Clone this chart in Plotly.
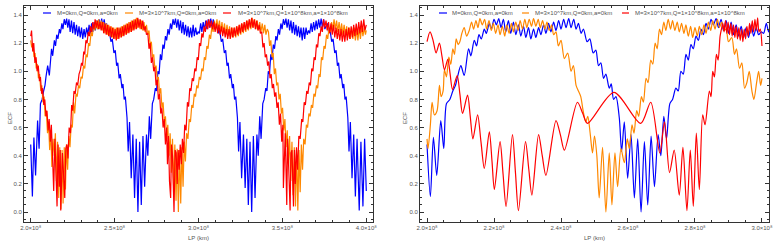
import numpy as np
import plotly.graph_objects as go

# LP in units of 1e8 km, ECF values
# M=0 (same curve in both panels)
blue_pts = [
(2.000,0.48),(2.010,0.11),(2.019,0.53),(2.029,0.26),(2.041,0.65),(2.050,0.45),(2.058,0.77),(2.068,0.80),
(2.077,0.86),(2.085,0.90),(2.091,0.96),(2.101,1.04),(2.111,0.97),(2.124,1.16),(2.131,1.11),(2.141,1.22),
(2.148,1.18),(2.155,1.26),(2.162,1.23),(2.171,1.30),(2.177,1.27),(2.186,1.34),(2.192,1.30),(2.200,1.37),
(2.207,1.33),(2.214,1.375),(2.221,1.31),(2.228,1.37),(2.235,1.28),(2.243,1.36),(2.250,1.27),(2.258,1.35),
(2.265,1.26),(2.273,1.33),(2.280,1.25),(2.288,1.32),(2.295,1.24),(2.303,1.31),(2.310,1.23),(2.318,1.30),
(2.325,1.24),(2.333,1.31),(2.340,1.26),(2.348,1.33),(2.355,1.27),(2.363,1.34),(2.370,1.28),(2.378,1.35),
(2.385,1.29),(2.393,1.36),(2.400,1.30),(2.408,1.37),(2.415,1.31),(2.423,1.375),(2.430,1.31),(2.438,1.37),
(2.445,1.30),(2.452,1.34),(2.460,1.27),(2.467,1.30),(2.478,1.21),(2.486,1.23),(2.496,1.13),(2.504,1.15),
(2.512,1.04),(2.519,1.06),(2.527,0.95),(2.534,0.98),(2.544,0.88),(2.550,0.91),(2.557,0.80),(2.564,0.82),
(2.574,0.67),(2.581,0.43),(2.589,0.64),(2.599,0.24),(2.609,0.55),(2.619,0.10),(2.629,0.52),(2.639,0.00),
(2.649,0.50),(2.659,0.05),(2.669,0.54),(2.679,0.18),(2.690,0.55),(2.698,0.40),(2.707,0.68),(2.715,0.52),
(2.725,0.77),(2.733,0.80),(2.743,0.88),(2.750,0.86),(2.758,1.00),(2.765,0.98),(2.773,1.12),(2.780,1.08),
(2.788,1.19),(2.795,1.16),(2.803,1.25),(2.810,1.22),(2.818,1.30),(2.825,1.26),(2.833,1.34),(2.840,1.30),
(2.848,1.37),(2.855,1.33),(2.863,1.375),(2.870,1.31),(2.878,1.37),(2.885,1.29),(2.893,1.36),(2.900,1.27),
(2.908,1.35),(2.915,1.26),(2.923,1.33),(2.930,1.25),(2.938,1.32),(2.945,1.24),(2.953,1.31),(2.960,1.24),
(2.968,1.33),(2.975,1.25),(2.983,1.31),(2.990,1.26),(2.998,1.28),(3.005,1.27),(3.013,1.34),(3.020,1.28),
(3.028,1.35),(3.035,1.29),(3.043,1.36),(3.050,1.30),(3.058,1.37),(3.065,1.31),(3.073,1.375),(3.080,1.31),
(3.088,1.37),(3.095,1.30),(3.110,1.34),(3.118,1.27),(3.125,1.30),(3.136,1.21),(3.144,1.23),(3.154,1.13),
(3.162,1.15),(3.170,1.04),(3.177,1.06),(3.185,0.95),(3.192,0.98),(3.202,0.88),(3.208,0.91),(3.215,0.80),
(3.222,0.82),(3.232,0.67),(3.239,0.43),(3.247,0.64),(3.257,0.24),(3.268,0.55),(3.278,0.17),(3.288,0.52),
(3.297,0.05),(3.307,0.50),(3.317,0.00),(3.327,0.54),(3.337,0.10),(3.348,0.55),(3.356,0.40),(3.365,0.68),
(3.373,0.52),(3.383,0.77),(3.391,0.80),(3.401,0.88),(3.408,0.86),(3.416,1.00),(3.423,0.98),(3.431,1.12),
(3.438,1.08),(3.446,1.19),(3.453,1.16),(3.461,1.25),(3.468,1.22),(3.476,1.30),(3.483,1.26),(3.491,1.34),
(3.498,1.30),(3.506,1.37),(3.513,1.33),(3.521,1.375),(3.528,1.31),(3.536,1.37),(3.543,1.29),(3.551,1.36),
(3.558,1.27),(3.566,1.35),(3.573,1.26),(3.581,1.33),(3.588,1.25),(3.596,1.32),(3.603,1.24),(3.611,1.31),
(3.618,1.22),(3.626,1.31),(3.633,1.23),(3.641,1.31),(3.648,1.26),(3.656,1.29),(3.663,1.27),(3.671,1.34),
(3.678,1.28),(3.686,1.35),(3.693,1.29),(3.701,1.36),(3.708,1.30),(3.716,1.37),(3.723,1.31),(3.731,1.375),
(3.738,1.31),(3.746,1.37),(3.753,1.30),(3.768,1.34),(3.776,1.27),(3.783,1.30),(3.794,1.21),(3.802,1.23),
(3.812,1.13),(3.820,1.15),(3.828,1.04),(3.835,1.06),(3.843,0.95),(3.850,0.98),(3.860,0.88),(3.866,0.91),
(3.873,0.80),(3.880,0.82),(3.890,0.67),(3.897,0.43),(3.905,0.64),(3.915,0.24),(3.925,0.55),(3.935,0.11),
(3.945,0.52),(3.958,0.01),(3.968,0.50),(3.980,0.04),(3.990,0.52),(4.000,0.15),
]

# M=3e7km, Q=0, a=0  (left panel)
orange_left_pts = [
(2.000,1.22),(2.006,1.17),(2.013,1.20),(2.020,1.10),(2.026,1.13),(2.033,1.02),(2.040,1.05),(2.046,0.95),
(2.053,0.98),(2.060,0.86),(2.066,0.90),(2.073,0.78),(2.080,0.82),(2.086,0.68),(2.093,0.72),(2.100,0.56),
(2.106,0.64),(2.113,0.44),(2.120,0.58),(2.126,0.32),(2.133,0.52),(2.140,0.40),(2.147,0.56),(2.153,0.22),
(2.160,0.50),(2.167,0.10),(2.173,0.46),(2.180,0.02),(2.187,0.44),(2.193,0.06),(2.200,0.46),(2.207,0.16),
(2.213,0.48),(2.220,0.30),(2.227,0.54),(2.234,0.46),(2.241,0.62),(2.248,0.60),(2.255,0.78),(2.262,0.70),
(2.270,0.84),(2.277,0.82),(2.285,0.90),(2.292,0.88),(2.300,0.96),(2.307,0.95),(2.315,1.04),(2.322,1.02),
(2.330,1.12),(2.337,1.10),(2.345,1.20),(2.352,1.18),(2.360,1.28),(2.367,1.25),(2.375,1.33),(2.382,1.29),
(2.390,1.36),(2.397,1.30),(2.405,1.37),(2.412,1.30),(2.420,1.36),(2.427,1.29),(2.435,1.35),(2.442,1.27),
(2.450,1.34),(2.457,1.26),(2.465,1.33),(2.472,1.25),(2.480,1.32),(2.487,1.24),(2.495,1.31),(2.502,1.23),
(2.510,1.31),(2.517,1.23),(2.525,1.31),(2.532,1.24),(2.540,1.32),(2.547,1.25),(2.555,1.33),(2.562,1.26),
(2.570,1.34),(2.577,1.27),(2.585,1.35),(2.592,1.28),(2.600,1.36),(2.607,1.29),(2.615,1.37),(2.622,1.30),
(2.630,1.38),(2.637,1.31),(2.645,1.37),(2.652,1.30),(2.660,1.36),(2.667,1.29),(2.675,1.35),(2.682,1.28),
(2.690,1.33),(2.697,1.26),(2.705,1.29),(2.712,1.18),(2.719,1.21),(2.726,1.10),(2.733,1.12),(2.740,1.02),
(2.747,1.04),(2.754,0.94),(2.761,0.96),(2.768,0.84),(2.775,0.88),(2.782,0.74),(2.789,0.78),(2.796,0.64),
(2.803,0.68),(2.810,0.52),(2.817,0.62),(2.824,0.40),(2.831,0.56),(2.838,0.28),(2.845,0.52),(2.852,0.16),
(2.859,0.48),(2.866,0.08),(2.873,0.45),(2.880,0.00),(2.887,0.44),(2.894,0.06),(2.901,0.46),(2.908,0.18),
(2.915,0.50),(2.922,0.36),(2.929,0.56),(2.937,0.52),(2.945,0.66),(2.952,0.64),(2.960,0.76),(2.967,0.74),
(2.975,0.84),(2.982,0.82),(2.990,0.90),(2.997,0.88),(3.005,0.96),(3.012,0.94),(3.020,1.02),(3.027,1.00),
(3.035,1.10),(3.042,1.08),(3.050,1.18),(3.057,1.16),(3.065,1.26),(3.072,1.23),(3.080,1.32),(3.087,1.28),
(3.095,1.36),(3.102,1.30),(3.110,1.37),(3.117,1.30),(3.125,1.36),(3.132,1.28),(3.140,1.35),(3.147,1.27),
(3.155,1.34),(3.162,1.26),(3.170,1.33),(3.177,1.25),(3.185,1.32),(3.192,1.24),(3.200,1.31),(3.207,1.24),
(3.215,1.31),(3.222,1.24),(3.230,1.32),(3.237,1.25),(3.245,1.33),(3.252,1.26),(3.260,1.34),(3.267,1.27),
(3.275,1.35),(3.282,1.28),(3.290,1.36),(3.297,1.29),(3.305,1.37),(3.312,1.30),(3.320,1.38),(3.327,1.31),
(3.335,1.37),(3.342,1.30),(3.350,1.36),(3.357,1.29),(3.365,1.35),(3.372,1.28),(3.380,1.34),(3.387,1.27),
(3.395,1.33),(3.402,1.26),(3.410,1.30),(3.417,1.28),(3.424,1.18),(3.431,1.22),(3.438,1.10),(3.445,1.13),
(3.452,0.98),(3.459,1.02),(3.466,0.90),(3.473,0.92),(3.480,0.80),(3.487,0.84),(3.494,0.70),(3.501,0.74),
(3.508,0.58),(3.515,0.66),(3.522,0.46),(3.529,0.58),(3.536,0.34),(3.543,0.54),(3.550,0.22),(3.557,0.50),
(3.564,0.12),(3.571,0.46),(3.578,0.04),(3.585,0.44),(3.592,0.01),(3.599,0.44),(3.606,0.14),(3.613,0.48),
(3.620,0.30),(3.627,0.52),(3.635,0.48),(3.643,0.62),(3.650,0.60),(3.658,0.70),(3.665,0.68),(3.673,0.76),
(3.680,0.74),(3.688,0.84),(3.695,0.82),(3.703,0.90),(3.710,0.88),(3.718,0.98),(3.725,0.96),(3.733,1.10),
(3.740,1.08),(3.748,1.18),(3.755,1.16),(3.763,1.26),(3.770,1.23),(3.778,1.31),(3.785,1.28),(3.793,1.35),
(3.800,1.30),(3.808,1.37),(3.815,1.30),(3.823,1.36),(3.830,1.28),(3.838,1.35),(3.845,1.27),(3.853,1.34),
(3.860,1.26),(3.868,1.33),(3.875,1.25),(3.883,1.32),(3.890,1.24),(3.898,1.31),(3.905,1.23),(3.913,1.31),
(3.920,1.23),(3.928,1.31),(3.935,1.22),(3.943,1.30),(3.950,1.22),(3.958,1.31),(3.965,1.23),(3.973,1.32),
(3.980,1.25),(3.988,1.31),(3.995,1.26),(4.000,1.29),
]

# M=3e7km, Q=1e8km, a=1e8km  (left panel)
red_left_pts = [
(2.000,1.25),(2.005,1.29),(2.012,1.14),(2.018,1.20),(2.025,1.06),(2.032,1.10),(2.038,1.00),(2.045,1.04),
(2.052,0.93),(2.058,0.96),(2.065,0.84),(2.071,0.88),(2.078,0.76),(2.084,0.80),(2.091,0.68),(2.097,0.72),
(2.104,0.58),(2.110,0.66),(2.117,0.50),(2.123,0.62),(2.130,0.40),(2.137,0.15),(2.144,0.52),(2.150,0.28),
(2.157,0.04),(2.163,0.48),(2.170,0.18),(2.176,0.44),(2.179,0.01),(2.189,0.42),(2.196,0.20),(2.203,0.10),
(2.209,0.45),(2.216,0.48),(2.222,0.38),(2.229,0.60),(2.237,0.56),(2.244,0.76),(2.250,0.72),(2.258,0.86),
(2.265,0.84),(2.273,0.92),(2.280,0.90),(2.288,0.98),(2.296,1.01),(2.303,1.06),(2.309,1.04),(2.316,1.14),
(2.322,1.12),(2.329,1.22),(2.336,1.20),(2.343,1.28),(2.350,1.25),(2.356,1.32),(2.363,1.28),(2.370,1.35),
(2.377,1.30),(2.384,1.37),(2.391,1.31),(2.398,1.36),(2.405,1.30),(2.413,1.35),(2.420,1.29),(2.428,1.35),
(2.435,1.27),(2.443,1.34),(2.450,1.26),(2.458,1.33),(2.465,1.25),(2.473,1.32),(2.480,1.24),(2.488,1.31),
(2.495,1.23),(2.503,1.30),(2.510,1.22),(2.518,1.31),(2.525,1.23),(2.533,1.31),(2.540,1.24),(2.548,1.32),
(2.555,1.25),(2.563,1.33),(2.570,1.26),(2.578,1.34),(2.585,1.27),(2.593,1.35),(2.600,1.28),(2.608,1.36),
(2.615,1.29),(2.623,1.37),(2.630,1.30),(2.638,1.38),(2.645,1.31),(2.653,1.37),(2.660,1.30),(2.668,1.36),
(2.675,1.29),(2.683,1.32),(2.690,1.26),(2.698,1.27),(2.705,1.16),(2.712,1.20),(2.719,1.06),(2.726,1.10),
(2.733,1.00),(2.740,1.03),(2.747,0.90),(2.754,0.94),(2.761,0.80),(2.768,0.84),(2.775,0.70),(2.782,0.74),
(2.789,0.60),(2.796,0.66),(2.803,0.48),(2.810,0.60),(2.815,0.34),(2.821,0.54),(2.827,0.22),(2.834,0.10),
(2.839,0.48),(2.845,0.40),(2.851,0.14),(2.854,0.00),(2.861,0.44),(2.867,0.42),(2.873,0.20),(2.879,0.44),
(2.885,0.30),(2.891,0.48),(2.898,0.34),(2.904,0.52),(2.911,0.42),(2.918,0.62),(2.926,0.58),(2.934,0.78),
(2.941,0.75),(2.948,0.88),(2.955,0.86),(2.963,0.95),(2.970,0.93),(2.978,1.02),(2.985,1.00),(2.992,1.10),
(2.999,1.08),(3.006,1.20),(3.013,1.18),(3.020,1.27),(3.027,1.24),(3.034,1.32),(3.041,1.28),(3.048,1.36),
(3.055,1.30),(3.062,1.37),(3.069,1.31),(3.077,1.36),(3.084,1.30),(3.092,1.35),(3.099,1.28),(3.107,1.34),
(3.114,1.27),(3.122,1.33),(3.129,1.26),(3.137,1.32),(3.144,1.25),(3.152,1.31),(3.159,1.24),(3.167,1.30),
(3.174,1.23),(3.182,1.30),(3.189,1.23),(3.197,1.31),(3.204,1.24),(3.212,1.31),(3.219,1.25),(3.227,1.32),
(3.234,1.26),(3.242,1.33),(3.249,1.27),(3.257,1.34),(3.264,1.28),(3.272,1.35),(3.279,1.29),(3.287,1.36),
(3.294,1.30),(3.302,1.37),(3.309,1.31),(3.317,1.38),(3.324,1.31),(3.332,1.37),(3.339,1.30),(3.347,1.36),
(3.354,1.29),(3.362,1.33),(3.369,1.27),(3.377,1.28),(3.384,1.17),(3.391,1.20),(3.398,1.10),(3.405,1.12),
(3.412,1.04),(3.419,1.07),(3.426,0.95),(3.433,0.98),(3.440,0.88),(3.447,0.91),(3.454,0.82),(3.461,0.85),
(3.468,0.74),(3.475,0.78),(3.482,0.62),(3.489,0.70),(3.496,0.50),(3.503,0.62),(3.506,0.17),(3.517,0.56),
(3.526,0.05),(3.531,0.52),(3.538,0.30),(3.546,0.01),(3.551,0.42),(3.557,0.44),(3.566,0.04),(3.572,0.44),
(3.577,0.20),(3.584,0.46),(3.591,0.30),(3.598,0.54),(3.606,0.52),(3.615,0.66),(3.622,0.64),(3.630,0.78),
(3.637,0.76),(3.645,0.86),(3.652,0.84),(3.660,0.92),(3.667,0.90),(3.675,1.02),(3.682,1.00),(3.689,1.10),
(3.696,1.08),(3.703,1.19),(3.710,1.17),(3.717,1.27),(3.724,1.25),(3.731,1.32),(3.738,1.28),(3.745,1.37),
(3.752,1.31),(3.760,1.36),(3.767,1.29),(3.775,1.35),(3.782,1.27),(3.790,1.34),(3.797,1.26),(3.805,1.33),
(3.812,1.24),(3.820,1.31),(3.827,1.23),(3.835,1.30),(3.842,1.22),(3.850,1.30),(3.857,1.21),(3.865,1.29),
(3.872,1.21),(3.880,1.30),(3.887,1.22),(3.895,1.31),(3.902,1.23),(3.910,1.32),(3.917,1.24),(3.925,1.33),
(3.932,1.25),(3.940,1.34),(3.947,1.26),(3.955,1.35),(3.962,1.27),(3.970,1.36),(3.977,1.28),(3.985,1.37),
(3.992,1.29),(4.000,1.33),
]

# right panel: M=3e7km, Q=0, a=0
orange_right_pts = [
(2.000,0.52),(2.003,0.45),(2.010,0.62),(2.015,0.78),(2.022,0.69),(2.030,0.72),(2.037,0.90),(2.042,0.82),
(2.048,0.86),(2.052,1.01),(2.058,0.96),(2.065,1.10),(2.071,1.05),(2.077,1.16),(2.082,1.12),(2.087,1.23),
(2.093,1.19),(2.098,1.21),(2.104,1.27),(2.111,1.31),(2.118,1.25),(2.126,1.29),(2.133,1.35),(2.139,1.30),
(2.146,1.36),(2.152,1.31),(2.158,1.375),(2.165,1.33),(2.172,1.37),(2.178,1.30),(2.185,1.36),(2.192,1.29),
(2.198,1.34),(2.205,1.27),(2.212,1.33),(2.218,1.26),(2.225,1.32),(2.232,1.25),(2.238,1.33),(2.245,1.27),
(2.252,1.34),(2.258,1.28),(2.265,1.35),(2.272,1.29),(2.278,1.36),(2.285,1.30),(2.292,1.37),(2.298,1.31),
(2.305,1.37),(2.312,1.32),(2.318,1.375),(2.325,1.32),(2.332,1.37),(2.338,1.31),(2.345,1.36),(2.352,1.30),
(2.358,1.35),(2.365,1.29),(2.372,1.33),(2.378,1.26),(2.385,1.28),(2.392,1.18),(2.400,1.22),(2.410,1.09),
(2.420,1.13),(2.430,1.00),(2.437,1.04),(2.445,0.90),(2.452,0.86),(2.459,0.82),(2.466,0.72),(2.474,0.64),
(2.480,0.68),(2.487,0.56),(2.494,0.42),(2.500,0.54),(2.507,0.40),(2.514,0.10),(2.524,0.46),(2.534,0.00),
(2.544,0.42),(2.552,0.05),(2.561,0.42),(2.569,0.18),(2.579,0.45),(2.589,0.35),(2.598,0.52),(2.604,0.45),
(2.612,0.62),(2.618,0.56),(2.626,0.72),(2.632,0.68),(2.640,0.82),(2.646,0.78),(2.654,0.95),(2.660,0.92),
(2.668,1.08),(2.674,1.05),(2.681,1.20),(2.687,1.16),(2.694,1.30),(2.700,1.26),(2.707,1.35),(2.713,1.29),
(2.720,1.37),(2.727,1.30),(2.733,1.36),(2.740,1.29),(2.747,1.35),(2.753,1.28),(2.760,1.34),(2.767,1.27),
(2.773,1.33),(2.780,1.25),(2.787,1.32),(2.793,1.24),(2.800,1.31),(2.807,1.25),(2.813,1.32),(2.820,1.26),
(2.827,1.33),(2.833,1.27),(2.840,1.35),(2.847,1.29),(2.853,1.36),(2.860,1.30),(2.867,1.37),(2.873,1.31),
(2.880,1.35),(2.887,1.29),(2.893,1.30),(2.900,1.21),(2.910,1.24),(2.918,1.12),(2.924,1.16),(2.933,1.02),
(2.940,1.06),(2.948,0.88),(2.955,0.92),(2.962,1.00),(2.970,0.86),(2.976,0.80),(2.984,0.92),(2.990,1.00),
(2.996,0.90),(3.000,0.95),
]

# right panel: M=3e7km, Q=1e8km, a=1e8km
red_right_pts = [
(2.000,1.21),(2.009,1.28),(2.018,1.22),(2.027,1.13),(2.037,1.20),(2.045,1.10),(2.052,1.01),(2.062,1.085),
(2.069,0.98),(2.076,0.87),(2.090,0.97),(2.098,0.84),(2.106,0.70),(2.121,0.83),(2.129,0.68),(2.137,0.52),
(2.151,0.69),(2.161,0.50),(2.171,0.31),(2.186,0.57),(2.194,0.36),(2.201,0.16),(2.218,0.50),(2.227,0.27),
(2.236,0.04),(2.255,0.55),(2.264,0.28),(2.273,0.01),(2.294,0.50),(2.304,0.30),(2.313,0.12),(2.333,0.55),
(2.344,0.40),(2.355,0.26),(2.385,0.65),(2.398,0.55),(2.410,0.44),(2.449,0.78),(2.465,0.70),(2.479,0.63),
(2.558,0.85),(2.638,0.63),(2.668,0.78),(2.695,0.42),(2.709,0.64),(2.724,0.28),(2.738,0.44),(2.753,0.12),
(2.764,0.46),(2.776,0.01),(2.786,0.44),(2.795,0.04),(2.804,0.56),(2.813,0.16),(2.823,0.69),(2.830,0.62),
(2.843,0.86),(2.848,0.82),(2.853,1.00),(2.858,0.96),(2.864,1.12),(2.869,1.08),(2.875,1.25),(2.879,1.30),
(2.883,1.34),(2.887,1.28),(2.891,1.36),(2.895,1.27),(2.899,1.35),(2.903,1.26),(2.907,1.34),(2.911,1.25),
(2.915,1.33),(2.919,1.24),(2.923,1.32),(2.927,1.23),(2.931,1.31),(2.935,1.22),(2.939,1.30),(2.943,1.21),
(2.947,1.30),(2.951,1.23),(2.955,1.32),(2.959,1.25),(2.963,1.34),(2.967,1.27),(2.971,1.36),(2.975,1.28),
(2.979,1.37),(2.983,1.29),(2.987,1.38),(2.991,1.28),(2.995,1.30),(3.000,1.18),
]

series_names = ["M=0km,Q=0km,a=0km", "M=3×10^7km,Q=0km,a=0km", "M=3×10^7km,Q=1×10^8km,a=1×10^8km"]
series_colors = ["#0000ff", "#ff8800", "#ff0000"]
left_ticks = [2.0, 2.5, 3.0, 3.5, 4.0]
right_ticks = [2.0, 2.2, 2.4, 2.6, 2.8, 3.0]
UNIT = 1e8

def xy(pts):
    a = np.array(pts)
    return a[:, 0] * UNIT, a[:, 1]

fig = go.Figure()
left_sets = [blue_pts, orange_left_pts, red_left_pts]
right_sets = [blue_pts, orange_right_pts, red_right_pts]
for pts, name, col in zip(left_sets, series_names, series_colors):
    x, y = xy(pts)
    fig.add_trace(go.Scatter(x=x, y=y, mode="lines", name=name, showlegend=False,
                             line=dict(color=col, width=1.2), xaxis="x", yaxis="y"))
for pts, name, col in zip(right_sets, series_names, series_colors):
    x, y = xy(pts)
    fig.add_trace(go.Scatter(x=x, y=y, mode="lines", name=name, showlegend=False,
                             line=dict(color=col, width=1.2, shape="spline", smoothing=0.8),
                             xaxis="x2", yaxis="y2"))

W, H = 778, 249
ML, MR, MT, MB = 24, 9, 6, 27
PW = W - ML - MR
PH = H - MT - MB
def px(x):
    return (x - ML) / PW
def py(y):
    return (H - MB - y) / PH

tickfont = dict(family="Liberation Sans, Arial, sans-serif", size=6, color="#555")
frame = dict(showline=True, linecolor="#333", linewidth=1, mirror="allticks", ticks="inside",
             ticklen=4, tickcolor="#333", tickwidth=1, showgrid=False, zeroline=False, tickfont=tickfont)

def tt(v):
    return f"{v:.1f}×10⁸"

fig.update_layout(
    width=W, height=H, margin=dict(l=ML, r=MR, t=MT, b=MB),
    paper_bgcolor="white", plot_bgcolor="white",
    xaxis=dict(domain=[0, px(373)], range=[1.96 * UNIT, 4.04 * UNIT],
               tickvals=[v * UNIT for v in left_ticks], ticktext=[tt(v) for v in left_ticks],
               minor=dict(dtick=0.1 * UNIT, tick0=2 * UNIT, ticks="inside", ticklen=2, tickcolor="#333"),
               **frame),
    yaxis=dict(range=[-0.071, 1.464], dtick=0.2, tick0=0, tickformat=".1f",
               minor=dict(dtick=0.05, tick0=0, ticks="inside", ticklen=2, tickcolor="#333"),
               anchor="x", **frame),
    xaxis2=dict(domain=[px(420), 1], range=[1.979 * UNIT, 3.021 * UNIT],
                tickvals=[v * UNIT for v in right_ticks], ticktext=[tt(v) for v in right_ticks],
                minor=dict(dtick=0.05 * UNIT, tick0=2 * UNIT, ticks="inside", ticklen=2, tickcolor="#333"),
                anchor="y2", **frame),
    yaxis2=dict(range=[-0.071, 1.464], dtick=0.2, tick0=0, tickformat=".1f",
                minor=dict(dtick=0.05, tick0=0, ticks="inside", ticklen=2, tickcolor="#333"),
                anchor="x2", **frame),
)

lab = dict(family="Liberation Sans, Arial, sans-serif", size=6, color="#555")
legfont = dict(family="Liberation Sans, Arial, sans-serif", size=6, color="#555")
ann = []
shapes = []
# axis titles
for cx in (198.5, 594.5):
    ann.append(dict(x=px(cx), y=py(238), xref="paper", yref="paper", text="LP (km)",
                    showarrow=False, font=lab, xanchor="center", yanchor="middle"))
for cx in (10, 405):
    ann.append(dict(x=px(cx), y=py(118), xref="paper", yref="paper", text="ECF", textangle=-90,
                    showarrow=False, font=lab, xanchor="center", yanchor="middle"))
# legends (one per panel)
leg_left = [(43, 51, 55), (125, 133, 137), (223, 231, 236)]
leg_right = [(439, 447, 450), (522, 529, 533), (622, 629, 633)]
for legpos in (leg_left, leg_right):
    for (x0, x1, xt), name, col in zip(legpos, series_names, series_colors):
        shapes.append(dict(type="line", xref="paper", yref="paper", x0=px(x0), x1=px(x1),
                           y0=py(13), y1=py(13), line=dict(color=col, width=1.2)))
        ann.append(dict(x=px(xt), y=py(13), xref="paper", yref="paper", text=name, showarrow=False,
                        font=legfont, xanchor="left", yanchor="middle"))
fig.update_layout(annotations=ann, shapes=shapes)

fig.write_html("out.html")
